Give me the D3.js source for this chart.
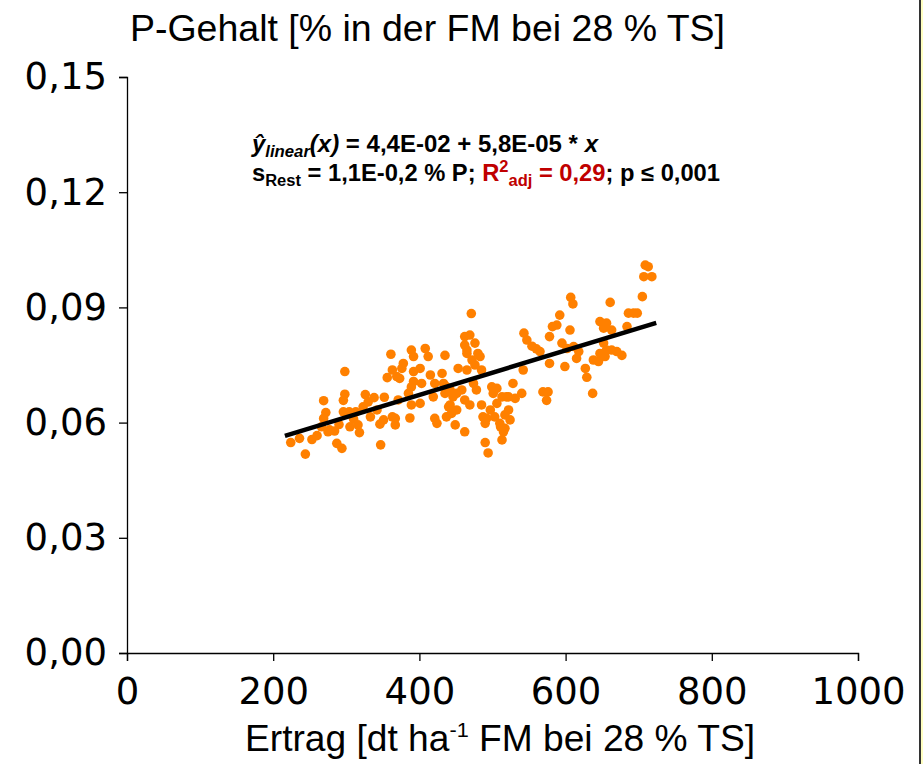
<!DOCTYPE html>
<html>
<head>
<meta charset="utf-8">
<script src="https://cdn.jsdelivr.net/npm/d3@7"></script>
<style>
  body { margin: 0; background: #fff; }
  svg { display: block; }
  .tick text { font-family: "DejaVu Sans", Verdana, sans-serif; }
</style>
</head>
<body>
<svg id="chart" width="923" height="764"></svg>
<script>
'use strict';

// Ertrag [dt/ha FM] and P-Gehalt [% FM] for each plot
var ertrag = [224, 236, 244, 253, 260, 266, 269, 272, 269, 277, 284, 287, 294, 290, 296, 298, 296, 298, 275,
  304, 305, 310, 313, 316, 318, 323, 326, 330, 333, 338, 342, 346, 347, 352, 351, 356, 361, 363, 367, 371, 369, 367, 363,
  373, 376, 378, 385, 387, 389, 392, 392, 389, 392, 389, 401, 403, 401, 408, 412, 415, 419, 421, 424, 421, 431,
  435, 437, 435, 437, 440, 442, 442, 444, 446, 449, 451, 451, 453, 458, 433,
  462, 462, 465, 469, 471, 472, 474, 476, 478, 483, 485, 485, 487, 490, 494, 490, 499, 501, 503, 506, 510, 513,
  515, 517, 519, 522, 524, 528, 531, 462, 465, 476, 480, 469, 462, 465, 497, 506, 513, 511, 517, 522, 492,
  540, 542, 543, 547, 554, 560, 565, 569, 574, 576, 578, 578, 582, 588, 592, 595, 599, 602, 606, 607, 610, 611,
  615, 618, 627, 629, 637, 638, 645,
  647, 652, 656, 661, 663, 652, 647, 654, 663, 670, 677, 684, 686, 693, 698, 705, 709, 713, 707, 718, 656];

var pGehalt = [0.0548, 0.0559, 0.0518, 0.0556, 0.0566, 0.0589, 0.0611, 0.0626, 0.0657, 0.0581, 0.0578, 0.0546, 0.0533, 0.0595, 0.0628, 0.0674, 0.0658, 0.0733, 0.0576,
  0.0628, 0.0589, 0.0609, 0.0628, 0.0594, 0.0574, 0.0641, 0.0673, 0.0654, 0.0615, 0.0665, 0.0633, 0.0596, 0.0542, 0.0666, 0.0607, 0.0717, 0.0778, 0.0737, 0.0594, 0.0659, 0.0720, 0.0611, 0.0615,
  0.0715, 0.0741, 0.0754, 0.0676, 0.0612, 0.0789, 0.0772, 0.0707, 0.0693, 0.0733, 0.0646, 0.0741, 0.0702, 0.0650, 0.0793, 0.0772, 0.0724, 0.0667, 0.0611, 0.0598, 0.0702, 0.0728,
  0.0775, 0.0693, 0.0676, 0.0615, 0.0641, 0.0685, 0.0646, 0.0624, 0.0667, 0.0594, 0.0633, 0.0676, 0.0741, 0.0685, 0.0702,
  0.0576, 0.0824, 0.0789, 0.0828, 0.0884, 0.0763, 0.0702, 0.0807, 0.0685, 0.0772, 0.0737, 0.0646, 0.0615, 0.0548, 0.0521, 0.0598, 0.0693, 0.0676, 0.0615, 0.0650, 0.0598, 0.0555,
  0.0576, 0.0620, 0.0667, 0.0633, 0.0607, 0.0702, 0.0663, 0.0802, 0.0780, 0.0750, 0.0780, 0.0646, 0.0659, 0.0737, 0.0633, 0.0689, 0.0667, 0.0589, 0.0585, 0.0667, 0.0611,
  0.0676, 0.0737, 0.0833, 0.0815, 0.0799, 0.0792, 0.0785, 0.0680, 0.0658, 0.0680, 0.0754, 0.0824, 0.0850, 0.0854, 0.0880, 0.0807, 0.0746, 0.0793, 0.0841, 0.0926, 0.0909, 0.0798,
  0.0767, 0.0785, 0.0741, 0.0718, 0.0676, 0.0763, 0.0759,
  0.0863, 0.0846, 0.0859, 0.0913, 0.0841, 0.0807, 0.0780, 0.0772, 0.0789, 0.0785, 0.0775, 0.0850, 0.0885, 0.0885, 0.0885, 0.0928, 0.1010, 0.1006, 0.0980, 0.0980, 0.0789];

// linear fit y = a + b*x, drawn over this Ertrag range
var fitA = 0.044;
var fitB = 0.000058;
var fitRange = [216, 724];

var xTicks = [0, 200, 400, 600, 800, 1000];
var yTicks = [0, 0.03, 0.06, 0.09, 0.12, 0.15];
var yTickLabels = ['0,00', '0,03', '0,06', '0,09', '0,12', '0,15'];

var svg = d3.select('#chart');
var margin = { left: 127, top: 77, right: 858, bottom: 653 };

svg.append('rect').attr('width', 923).attr('height', 764).attr('fill', '#fff');

var x = d3.scaleLinear().domain([0, 1000]).range([margin.left, margin.right]);
var y = d3.scaleLinear().domain([0, 0.15]).range([margin.bottom, margin.top]);

//Y axis
var yAxis = svg.append('g')
  .attr('transform', 'translate(' + margin.left + ',0)')
  .call(d3.axisLeft(y).tickValues(yTicks).tickSize(8).tickPadding(12)
    .tickFormat(function (d, i) { return yTickLabels[i]; }));
yAxis.selectAll('text').attr('font-size', 37).attr('fill', '#000');

//X axis
var xAxis = svg.append('g')
  .attr('transform', 'translate(0,' + margin.bottom + ')')
  .call(d3.axisBottom(x).tickValues(xTicks).tickSize(8).tickPadding(17).tickFormat(d3.format('d')));
xAxis.selectAll('text').attr('font-size', 37).attr('fill', '#000');

svg.selectAll('.domain, .tick line').attr('stroke', '#000').attr('stroke-width', 1.3);

//Points
var points = ertrag.map(function (d, i) { return { x: d, y: pGehalt[i] }; });
svg.append('g').selectAll('circle').data(points).enter().append('circle')
  .attr('cx', function (d) { return x(d.x); })
  .attr('cy', function (d) { return y(d.y); })
  .attr('r', 4.8)
  .attr('fill', '#ff8000');

//Regression line
svg.append('line')
  .attr('x1', x(fitRange[0])).attr('y1', y(fitA + fitB * fitRange[0]))
  .attr('x2', x(fitRange[1])).attr('y2', y(fitA + fitB * fitRange[1]))
  .attr('stroke', '#000').attr('stroke-width', 4.5);

//Titles
svg.append('text').attr('x', 130).attr('y', 41)
  .attr('font-family', '"Liberation Sans", Arial, sans-serif').attr('font-size', 36)
  .attr('textLength', 595).attr('lengthAdjust', 'spacingAndGlyphs')
  .text('P-Gehalt [% in der FM bei 28 % TS]');

var xTitle = svg.append('text').attr('x', 245).attr('y', 751)
  .attr('font-family', '"Liberation Sans", Arial, sans-serif').attr('font-size', 36)
  .attr('textLength', 510).attr('lengthAdjust', 'spacingAndGlyphs');
xTitle.append('tspan').text('Ertrag [dt ha');
xTitle.append('tspan').attr('font-size', 21).attr('dy', -14).text('-1');
xTitle.append('tspan').attr('dy', 14).text(' FM bei 28 % TS]');

//Equation
var eq = svg.append('g')
  .attr('font-family', '"Liberation Sans", Arial, sans-serif')
  .attr('font-weight', 'bold').attr('font-size', 23);

var l1 = eq.append('text').attr('x', 252).attr('y', 152)
  .attr('textLength', 346).attr('lengthAdjust', 'spacingAndGlyphs');
l1.append('tspan').attr('font-style', 'italic').text('ŷ');
l1.append('tspan').attr('font-style', 'italic').attr('font-size', 16).attr('dy', 5).text('linear');
l1.append('tspan').attr('font-style', 'italic').attr('dy', -5).text('(x)');
l1.append('tspan').text(' = 4,4E-02 + 5,8E-05 * ');
l1.append('tspan').attr('font-style', 'italic').text('x');

var l2 = eq.append('text').attr('x', 252).attr('y', 181)
  .attr('textLength', 468).attr('lengthAdjust', 'spacingAndGlyphs');
l2.append('tspan').text('s');
l2.append('tspan').attr('font-size', 16).attr('dy', 5).text('Rest');
l2.append('tspan').attr('dy', -5).text(' = 1,1E-0,2 % P; ');
l2.append('tspan').attr('fill', '#c00000').text('R');
l2.append('tspan').attr('fill', '#c00000').attr('font-size', 16).attr('dy', -9).text('2');
l2.append('tspan').attr('fill', '#c00000').attr('font-size', 16).attr('dy', 14).text('adj');
l2.append('tspan').attr('fill', '#c00000').attr('dy', -5).text(' = 0,29');
l2.append('tspan').text('; p ≤ 0,001');

//Frame edge at right
svg.append('rect').attr('x', 921).attr('y', 0).attr('width', 2).attr('height', 764).attr('fill', '#ffffc0');
svg.append('line').attr('x1', 920).attr('x2', 920).attr('y1', 0).attr('y2', 764)
  .attr('stroke', '#333').attr('stroke-width', 2);
</script>
</body>
</html>
